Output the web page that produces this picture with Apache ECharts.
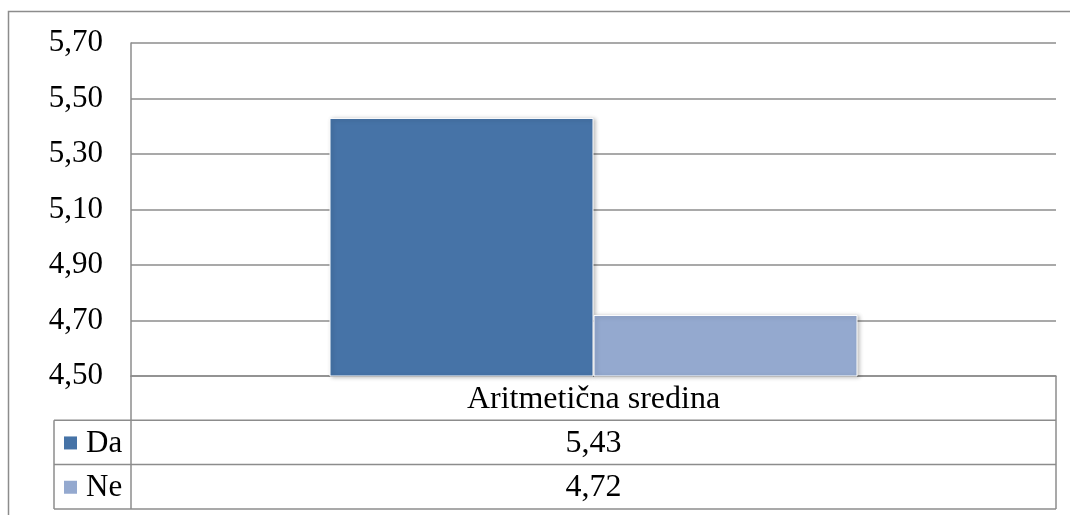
<!DOCTYPE html>
<html><head><meta charset="utf-8">
<script src="https://cdn.jsdelivr.net/npm/echarts@6/dist/echarts.min.js"></script>
<style>html,body{margin:0;padding:0;background:#fff}#c{width:1070px;height:515px}</style>
</head><body><div id="c"></div>
<script>
const categories = ['Aritmetična sredina'];
const seriesNames = ['Da', 'Ne'];
const valuesDa = [5.43];
const valuesNe = [4.72];
const yTicks = { min: 4.5, max: 5.7, interval: 0.2 };
const colors = ['#4673a7', '#94a9cf'];

const fmt = v => v.toFixed(2).replace('.', ',');
const font = '"Liberation Serif", "Times New Roman", serif';
const G = { left: 131, right: 14, top: 43, bottom: 139 };
const W = 1070, H = 515;
const x0 = G.left, x1 = W - G.right, yb = H - G.bottom;
const rowH = 44.3;
const legendX = 54;
const lineC = '#8c8c8c';

const allVals = [valuesDa, valuesNe];
const txt = (x, y, s, size, align) => ({ type: 'text', x: x, y: y, style: { text: s, fontSize: size, fontFamily: font, fill: '#000', align: align, verticalAlign: 'middle' }, silent: true });
const graphics = [];
graphics.push({ type: 'rect', shape: { x: 8.5, y: 11.5, width: 1100, height: 600 }, style: { fill: 'none', stroke: lineC, lineWidth: 1.5 }, silent: true, z: -1 });
graphics.push(txt((x0 + x1) / 2, yb + rowH / 2 + 1, categories[0], 32, 'center'));
graphics.push({ type: 'line', shape: { x1: x1, y1: yb, x2: x1, y2: yb + 3 * rowH }, style: { stroke: lineC, lineWidth: 1.5 } });
graphics.push({ type: 'line', shape: { x1: legendX, y1: yb + rowH, x2: legendX, y2: yb + 3 * rowH }, style: { stroke: lineC, lineWidth: 1.5 } });
graphics.push({ type: 'line', shape: { x1: x0, y1: yb, x2: x0, y2: yb + 3 * rowH }, style: { stroke: lineC, lineWidth: 1.5 } });
for (let r = 1; r <= 3; r++) {
  graphics.push({ type: 'line', shape: { x1: legendX, y1: yb + r * rowH, x2: x1, y2: yb + r * rowH }, style: { stroke: lineC, lineWidth: 1.5 } });
}
seriesNames.forEach((n, i) => {
  const cy = yb + (i + 1.5) * rowH;
  graphics.push({ type: 'rect', shape: { x: 64, y: cy - 6, width: 13, height: 13 }, style: { fill: colors[i] } });
  graphics.push(txt(86, cy + 1, n, 31, 'left'));
  graphics.push(txt((x0 + x1) / 2, cy + 1, fmt(allVals[i][0]), 32, 'center'));
});

const chart = echarts.init(document.getElementById('c'), null, { renderer: 'canvas' });
chart.setOption({
  animation: false,
  backgroundColor: '#fff',
  grid: { left: G.left, right: G.right, top: G.top, bottom: G.bottom, containLabel: false },
  xAxis: { type: 'category', data: categories, axisLine: { show: true, lineStyle: { color: lineC, width: 1.5 } }, axisTick: { show: false }, axisLabel: { show: false } },
  yAxis: {
    type: 'value', min: yTicks.min, max: yTicks.max, interval: yTicks.interval,
    axisLine: { show: true, lineStyle: { color: lineC, width: 1.5 } },
    axisTick: { show: false },
    splitLine: { show: true, lineStyle: { color: lineC, width: 1.5 } },
    axisLabel: { formatter: v => fmt(v), fontFamily: font, fontSize: 31, color: '#000', margin: 28 }
  },
  series: seriesNames.map((n, i) => ({
    name: n, type: 'bar', data: allVals[i], barWidth: 264, barGap: '0%',
    itemStyle: { color: colors[i], borderColor: '#fff', borderWidth: 1, shadowBlur: 4, shadowColor: 'rgba(0,0,0,0.25)', shadowOffsetX: 2, shadowOffsetY: 1 }
  })),
  graphic: graphics
});
</script></body></html>
